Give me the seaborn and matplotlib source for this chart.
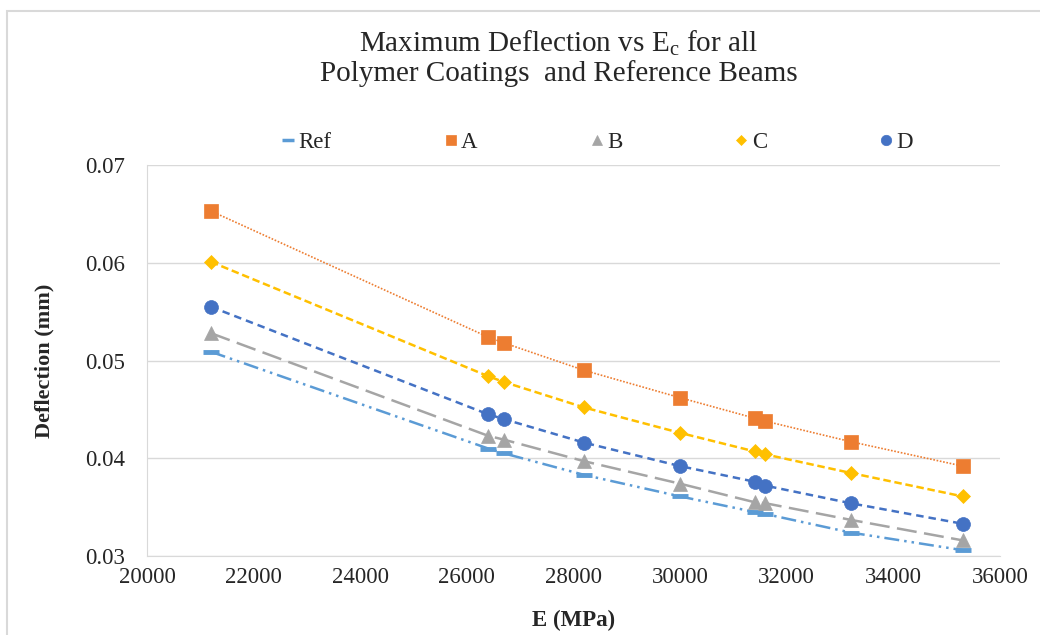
import numpy as np
import pandas as pd
import seaborn as sns
from matplotlib import pyplot as plt
from matplotlib.lines import Line2D
from matplotlib.patches import Rectangle

# data
e_mpa = [21200, 26400, 26700, 28200, 30000, 31400, 31600, 33200, 35300]
ref = [0.0509, 0.0410, 0.0405, 0.0383, 0.0361, 0.0345, 0.0343, 0.0324, 0.0306]
coat_a = [0.0653, 0.0524, 0.0518, 0.0490, 0.0462, 0.0441, 0.0438, 0.0417, 0.0392]
coat_b = [0.0528, 0.0423, 0.0419, 0.0397, 0.0374, 0.0355, 0.0354, 0.0337, 0.0316]
coat_c = [0.0601, 0.0484, 0.0478, 0.0452, 0.0426, 0.0407, 0.0404, 0.0385, 0.0361]
coat_d = [0.0555, 0.0445, 0.0440, 0.0416, 0.0392, 0.0376, 0.0372, 0.0354, 0.0333]

series_names = ["Ref", "A", "B", "C", "D"]
series_vals = [ref, coat_a, coat_b, coat_c, coat_d]

colors = {"Ref": "#5B9BD5", "A": "#ED7D31", "B": "#A5A5A5", "C": "#FFC000", "D": "#4472C4"}
markers = {"Ref": "_", "A": "s", "B": "^", "C": "D", "D": "o"}
dashes = {"Ref": (6, 2, 1, 2, 1, 2), "A": (1, 1), "B": (8, 3), "C": (3, 1.5), "D": (3, 2)}
msizes = {"Ref": 11, "A": 10, "B": 10, "C": 7.5, "D": 10}

df = pd.DataFrame({
    "E": np.tile(e_mpa, len(series_names)),
    "defl": np.concatenate(series_vals),
    "series": np.repeat(series_names, len(e_mpa)),
})

sns.set_style("white")
plt.rcParams["font.family"] = ["Liberation Serif", "DejaVu Serif"]

fig = plt.figure(figsize=(10.4, 6.35), dpi=100)
# chart area border (only left and top visible in the reference crop)
fig.patches.append(Rectangle((7 / 1040, -0.1), 1.2, 1.1 - 11 / 635, transform=fig.transFigure,
                             fill=False, edgecolor="#D9D9D9", linewidth=1.5))
ax = fig.add_axes([0.1413, 0.1244, 0.8202, 0.6156])

for name in series_names:
    sub = df[df["series"] == name]
    lw = 1.2 if name == "A" else 1.8
    sns.lineplot(data=sub, x="E", y="defl", ax=ax, color=colors[name], linewidth=lw,
                 dashes=False, legend=False, zorder=2)
    ax.lines[-1].set_dashes(dashes[name])
    ax.plot(sub["E"], sub["defl"], linestyle="none", marker=markers[name],
            markersize=msizes[name], color=colors[name],
            markeredgewidth=3.5 if name == "Ref" else 0.5, zorder=3)

ax.set_xlim(20000, 36000)
ax.set_ylim(0.03, 0.07)
ax.set_xticks(np.arange(20000, 36001, 2000))
ax.set_yticks([0.03, 0.04, 0.05, 0.06, 0.07])
ax.set_yticklabels(["0.03", "0.04", "0.05", "0.06", "0.07"])
ax.grid(axis="y", color="#D9D9D9", linewidth=1)
ax.set_axisbelow(True)
for s in ["top", "right"]:
    ax.spines[s].set_visible(False)
ax.spines["bottom"].set_color("#D9D9D9")
ax.spines["left"].set_color("#D9D9D9")
ax.tick_params(axis="both", labelsize=16.5, length=0)
ax.tick_params(axis="x", pad=8)
ax.tick_params(axis="y", pad=16)

ax.set_xlabel("E (MPa)", fontsize=16.5, fontweight="bold", labelpad=16)
ax.set_ylabel("Deflection (mm)", fontsize=16, fontweight="bold", labelpad=22)

fig.text(0.537, 0.91, "Maximum Deflection vs E$_{\\mathregular{c}}$ for all\nPolymer Coatings  and Reference Beams",
         ha="center", va="center", fontsize=21, linespacing=1.1)

handles = [Line2D([], [], linestyle="none", marker=markers[n], color=colors[n],
                  markersize=msizes[n] - 2.5, markeredgewidth=2.5 if n == "Ref" else 0.5)
           for n in series_names]
fig.legend(handles, series_names, loc="center", bbox_to_anchor=(0.573, 0.775), ncol=5,
           frameon=False, fontsize=16.5, handletextpad=0.05, columnspacing=4.8, handlelength=0.8)

fig.savefig("out.png", dpi=100)
